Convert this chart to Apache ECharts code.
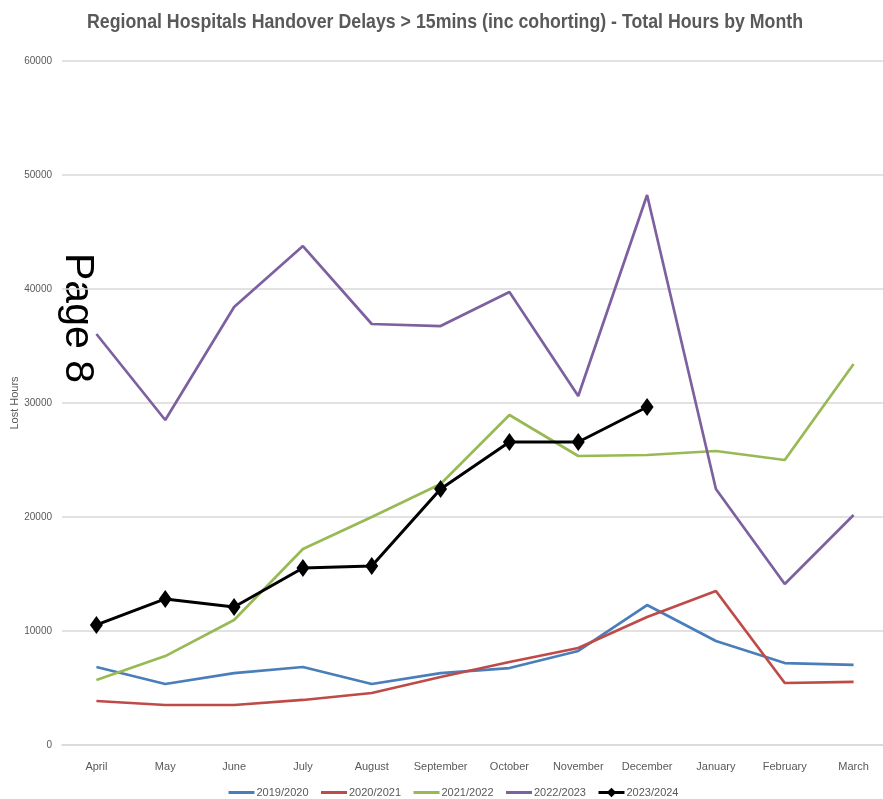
<!DOCTYPE html>
<html>
<head>
<meta charset="utf-8">
<script src="https://cdn.jsdelivr.net/npm/echarts@6/dist/echarts.min.js"></script>
<style>
  html, body { margin: 0; padding: 0; background: #fff; }
  #main { width: 883px; height: 799px; }
</style>
</head>
<body>
<div id="main"></div>
<script>
var months = ['April', 'May', 'June', 'July', 'August', 'September', 'October', 'November', 'December', 'January', 'February', 'March'];
var y2019 = [6840, 5350, 6300, 6840, 5350, 6300, 6750, 8250, 12280, 9120, 7190, 7020];
var y2020 = [3860, 3510, 3510, 3950, 4560, 5960, 7280, 8510, 11230, 13510, 5440, 5530];
var y2021 = [5700, 7800, 10960, 17190, 20000, 22900, 28950, 25350, 25440, 25790, 25000, 33420];
var y2022 = [36050, 28510, 38420, 43770, 36930, 36750, 39740, 30610, 48250, 22460, 14120, 20180];
var y2023 = [10530, 12810, 12100, 15530, 15700, 22460, 26580, 26580, 29650];

var chart = echarts.init(document.getElementById('main'));

function plain(name, data, color) {
  return {
    name: name,
    type: 'line',
    data: data,
    symbol: 'none',
    lineStyle: { color: color, width: 2.7 },
    itemStyle: { color: color }
  };
}

var noDot = { opacity: 0 };

var option = {
  animation: false,
  textStyle: { fontFamily: 'Liberation Sans, sans-serif' },
  grid: { left: 62, top: 61, right: -5, bottom: 54, outerBoundsMode: 'none' },
  legend: {
    bottom: -4,
    left: 222,
    itemWidth: 26,
    itemHeight: 12,
    itemGap: 11,
    lineStyle: { width: 3 },
    textStyle: { color: '#595959', fontSize: 11, padding: [0, 0, 0, -3] },
    data: [
      { name: '2019/2020', itemStyle: noDot },
      { name: '2020/2021', itemStyle: noDot },
      { name: '2021/2022', itemStyle: noDot },
      { name: '2022/2023', itemStyle: noDot },
      { name: '2023/2024' }
    ]
  },
  xAxis: {
    type: 'category',
    data: months,
    boundaryGap: true,
    axisLine: { show: true, lineStyle: { color: '#d9d9d9', width: 1.5 } },
    axisTick: { show: false },
    axisLabel: { color: '#595959', fontSize: 11, margin: 16, interval: 0 }
  },
  yAxis: {
    type: 'value',
    min: 0,
    max: 60000,
    interval: 10000,
    name: 'Lost Hours',
    nameLocation: 'middle',
    nameRotate: 90,
    nameGap: 42,
    nameMoveOverlap: false,
    nameTextStyle: { color: '#595959', fontSize: 11 },
    axisLine: { show: false },
    axisTick: { show: false },
    axisLabel: { color: '#595959', fontSize: 10, margin: 10, formatter: function (v) { return String(v); } },
    splitLine: { lineStyle: { color: '#d9d9d9', width: 1.5 } }
  },
  graphic: [{
    type: 'text',
    x: 445,
    y: 22,
    scaleX: 0.845,
    style: {
      text: 'Regional Hospitals Handover Delays > 15mins (inc cohorting) - Total Hours by Month',
      fontSize: 21,
      fontWeight: 'bold',
      fill: '#595959',
      align: 'center',
      verticalAlign: 'middle'
    }
  }, {
    type: 'text',
    x: 98,
    y: 253,
    rotation: -Math.PI / 2,
    style: { text: 'Page 8', fontSize: 41, fill: '#000', align: 'left', verticalAlign: 'top' }
  }],
  series: [
    plain('2019/2020', y2019, '#4a7ebb'),
    plain('2020/2021', y2020, '#be4b48'),
    plain('2021/2022', y2021, '#98b954'),
    plain('2022/2023', y2022, '#7d60a0'),
    {
      name: '2023/2024',
      type: 'line',
      data: y2023,
      symbol: 'diamond',
      symbolSize: [13, 18],
      lineStyle: { color: '#000', width: 3 },
      itemStyle: { color: '#000' }
    }
  ]
};

chart.setOption(option);
</script>
</body>
</html>
